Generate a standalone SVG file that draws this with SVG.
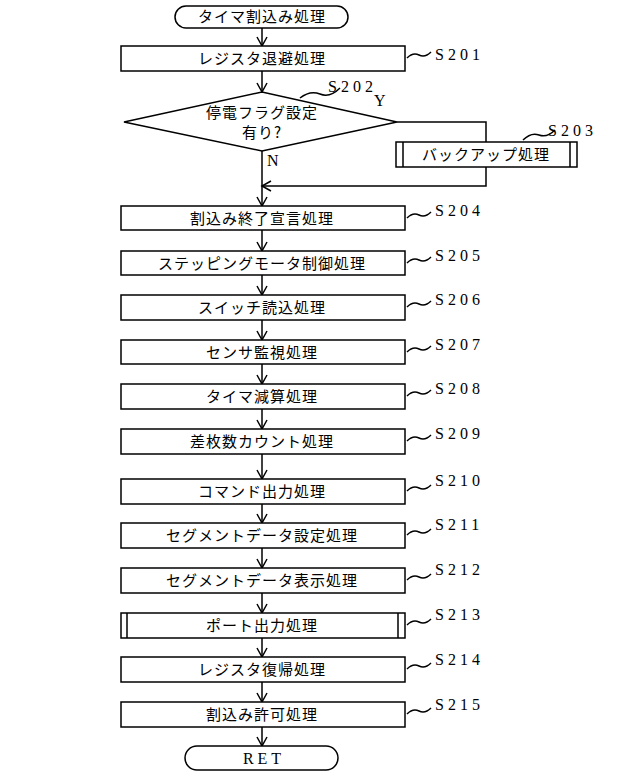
<svg xmlns="http://www.w3.org/2000/svg" width="640" height="776" viewBox="0 0 640 776">
<style>
.b{fill:#fff;stroke:#000;stroke-width:1.5}
.t{font-family:"Noto Sans CJK JP",sans-serif;font-size:15px;text-anchor:middle;letter-spacing:1px}
.l{font-family:"Liberation Serif",serif;font-size:16px;letter-spacing:4px}
.c{fill:none;stroke:#000;stroke-width:1.5}
</style>
<defs><marker id="a" markerWidth="12" markerHeight="12" refX="10" refY="6" orient="auto" markerUnits="userSpaceOnUse"><path d="M1,1 L10,6 L1,11" fill="none" stroke="#000" stroke-width="1.5"/></marker></defs>
<rect width="640" height="776" fill="#fff"/>
<g id="connectors" class="c">
<path d="M262,28 V46" marker-end="url(#a)"/>
<path d="M262,71 V92" marker-end="url(#a)"/>
<path d="M262,151 V206" marker-end="url(#a)"/>
<path d="M397,122 H486 V142"/>
<path d="M486,167 V186 H262" marker-end="url(#a)"/>
<path d="M262,230 V251" marker-end="url(#a)"/>
<path d="M262,275 V295" marker-end="url(#a)"/>
<path d="M262,320 V340" marker-end="url(#a)"/>
<path d="M262,364 V384" marker-end="url(#a)"/>
<path d="M262,409 V429" marker-end="url(#a)"/>
<path d="M262,454 V479" marker-end="url(#a)"/>
<path d="M262,504 V523" marker-end="url(#a)"/>
<path d="M262,548 V568" marker-end="url(#a)"/>
<path d="M262,593 V613" marker-end="url(#a)"/>
<path d="M262,638 V657" marker-end="url(#a)"/>
<path d="M262,682 V702" marker-end="url(#a)"/>
<path d="M262,727 V746" marker-end="url(#a)"/>
</g>
<g id="start"><rect class="b" x="175" y="6" width="173" height="22" rx="11"/><text class="t" x="262" y="22">タイマ割込み処理</text></g>
<g id="s202"><path class="b" d="M124,122 L262,92 L397,122 L262,151 Z"/><text class="t" x="262" y="118">停電フラグ設定</text><text class="t" x="262" y="138">有り?</text>
<path class="c" d="M300,98 q10,-8 20,-4 t20,-6"/><text class="l" x="328" y="92">S202</text><text class="l" x="374" y="106">Y</text><text class="l" x="267" y="166">N</text></g>
<g id="s203"><rect class="b" x="396" y="142" width="181" height="25"/><path class="c" d="M403,142 V167 M570,142 V167"/><text class="t" x="486" y="160">バックアップ処理</text>
<path class="c" d="M523,140 q8,-8 16,-5 t16,-5"/><text class="l" x="548" y="136">S203</text></g>
<g id="s201"><rect class="b" x="121" y="46" width="284" height="25"/><text class="t" x="262" y="64">レジスタ退避処理</text>
<path class="c" d="M407,58 q6,-6 12,-3 t12,-3"/><text class="l" x="435" y="60">S201</text></g>
<g id="s204"><rect class="b" x="121" y="206" width="284" height="24"/><text class="t" x="262" y="224">割込み終了宣言処理</text><path class="c" d="M407,218 q6,-6 12,-3 t12,-3"/><text class="l" x="435" y="216">S204</text></g>
<g id="s205"><rect class="b" x="121" y="251" width="284" height="24"/><text class="t" x="262" y="269">ステッピングモータ制御処理</text><path class="c" d="M407,263 q6,-6 12,-3 t12,-3"/><text class="l" x="435" y="261">S205</text></g>
<g id="s206"><rect class="b" x="121" y="295" width="284" height="25"/><text class="t" x="262" y="313">スイッチ読込処理</text><path class="c" d="M407,307 q6,-6 12,-3 t12,-3"/><text class="l" x="435" y="305">S206</text></g>
<g id="s207"><rect class="b" x="121" y="340" width="284" height="24"/><text class="t" x="262" y="358">センサ監視処理</text><path class="c" d="M407,352 q6,-6 12,-3 t12,-3"/><text class="l" x="435" y="350">S207</text></g>
<g id="s208"><rect class="b" x="121" y="384" width="284" height="25"/><text class="t" x="262" y="402">タイマ減算処理</text><path class="c" d="M407,396 q6,-6 12,-3 t12,-3"/><text class="l" x="435" y="394">S208</text></g>
<g id="s209"><rect class="b" x="121" y="429" width="284" height="25"/><text class="t" x="262" y="447">差枚数カウント処理</text><path class="c" d="M407,441 q6,-6 12,-3 t12,-3"/><text class="l" x="435" y="439">S209</text></g>
<g id="s210"><rect class="b" x="121" y="479" width="284" height="25"/><text class="t" x="262" y="497">コマンド出力処理</text><path class="c" d="M407,491 q6,-6 12,-3 t12,-3"/><text class="l" x="435" y="486">S210</text></g>
<g id="s211"><rect class="b" x="121" y="523" width="284" height="25"/><text class="t" x="262" y="541">セグメントデータ設定処理</text><path class="c" d="M407,535 q6,-6 12,-3 t12,-3"/><text class="l" x="435" y="530">S211</text></g>
<g id="s212"><rect class="b" x="121" y="568" width="284" height="25"/><text class="t" x="262" y="586">セグメントデータ表示処理</text><path class="c" d="M407,580 q6,-6 12,-3 t12,-3"/><text class="l" x="435" y="575">S212</text></g>
<g id="s213"><rect class="b" x="121" y="613" width="284" height="25"/><path class="c" d="M127,613 V638 M398,613 V638"/><text class="t" x="262" y="631">ポート出力処理</text><path class="c" d="M407,625 q6,-6 12,-3 t12,-3"/><text class="l" x="435" y="620">S213</text></g>
<g id="s214"><rect class="b" x="121" y="657" width="284" height="25"/><text class="t" x="262" y="675">レジスタ復帰処理</text><path class="c" d="M407,669 q6,-6 12,-3 t12,-3"/><text class="l" x="435" y="665">S214</text></g>
<g id="s215"><rect class="b" x="121" y="702" width="284" height="25"/><text class="t" x="262" y="720">割込み許可処理</text><path class="c" d="M407,714 q6,-6 12,-3 t12,-3"/><text class="l" x="435" y="710">S215</text></g>
<g id="ret"><rect class="b" x="185" y="746" width="153" height="24" rx="12"/><text class="l" x="264" y="764" text-anchor="middle">RET</text></g>
</svg>
